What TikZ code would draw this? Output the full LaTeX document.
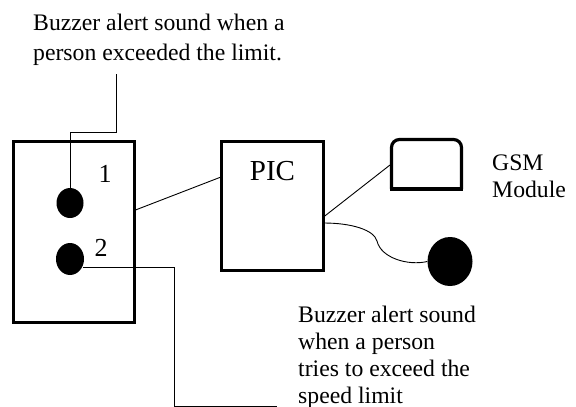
\documentclass[tikz,border=0pt]{standalone}
\usepackage{fontspec}
\setmainfont{Liberation Serif}
\usetikzlibrary{shapes.geometric}
\begin{document}
\begin{tikzpicture}[x=1pt,y=-1pt,
  thickbox/.style={draw=black,line width=3pt,minimum width=#1,inner sep=0pt},
  dot/.style={ellipse,fill=black,inner sep=0pt},
  wire/.style={draw=black,line width=0.9pt},
  lbl/.style={inner sep=0pt,anchor=base west,align=left,font=\fontsize{23.7}{27}\selectfont},
  num/.style={inner sep=0pt,anchor=base,font=\fontsize{26}{28}\selectfont}]
\useasboundingbox (0,0) rectangle (576,407);
% boxes
\node[thickbox=121.5pt,minimum height=181.5pt] (left) at (74,232) {};
\node[thickbox=102pt,minimum height=129pt] (pic) at (272.5,206) {};
\node[inner sep=0pt,font=\fontsize{29}{30}\selectfont,anchor=base] (pictxt) at (272.5,180) {PIC};
% GSM module box
\draw[line width=3.2pt,rounded corners=8pt] (391.5,189) -- (391.5,139.5) -- (461.5,139.5) -- (461.5,189);
\draw[line width=3.2pt] (389.9,189) -- (463.1,189);
\node[inner sep=0pt,minimum width=70pt,minimum height=50pt] (gsm) at (426.5,164.5) {};
% dots
\node[dot,minimum width=27pt,minimum height=30pt] (d1) at (70,203) {};
\node[dot,minimum width=28pt,minimum height=32pt] (d2) at (70,259) {};
\node[dot,minimum width=45pt,minimum height=49pt] (d3) at (450,261.5) {};
% numbers
\node[num] (n1) at (105,182) {1};
\node[num] (n2) at (101,256) {2};
% texts (base anchor = last line's baseline)
\node[lbl,font=\fontsize{23.7}{30}\selectfont] (ttop) at (33,60) {Buzzer alert sound when a\\person exceeded the limit.};
\node[lbl] (tgsm) at (492,197) {GSM\\Module};
\node[lbl] (tbot) at (298,403) {Buzzer alert sound\\when a person\\tries to exceed the\\speed limit};
% connectors
\coordinate (a1) at (70,132);
\coordinate (a2) at (116,132);
\coordinate (a3) at (116,74);
\draw[wire] (d1.north) -- (a1) -- (a2) -- (a3);
\coordinate (b0) at (83,267);
\coordinate (b1) at (174,267);
\coordinate (b2) at (174,406);
\coordinate (b3) at (277,406);
\draw[wire] (b0) -- (b1) -- (b2) -- (b3);
\coordinate (c0) at (135.5,210);
\coordinate (c1) at (221,177);
\draw[wire] (c0) -- (c1);
\coordinate (e0) at (323.5,217);
\coordinate (e1) at (390,165);
\draw[wire] (e0) -- (e1);
\coordinate (f0) at (323.5,223);
\draw[wire] (f0) .. controls (352,223) and (374,230) .. (377,241)
  .. controls (381,258) and (408,266) .. (d3.west);
\end{tikzpicture}
\end{document}
